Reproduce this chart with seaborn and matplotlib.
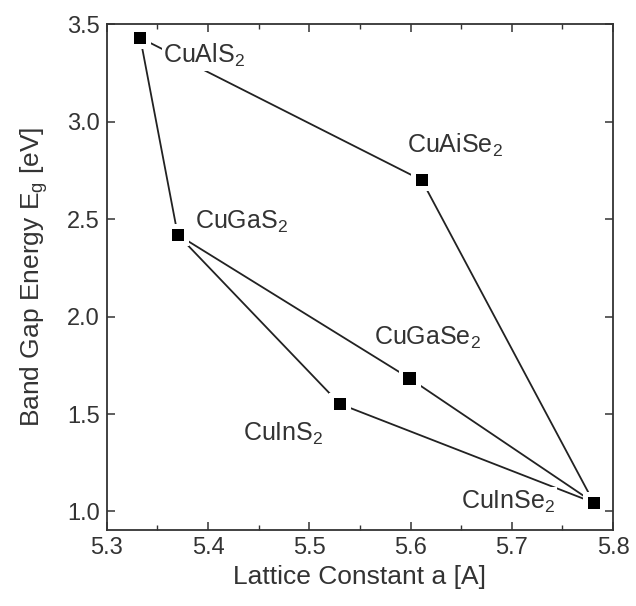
import matplotlib
matplotlib.use("Agg")
import matplotlib.pyplot as plt
import seaborn as sns
import pandas as pd
from matplotlib.ticker import MultipleLocator

compounds = ["CuAlS2", "CuAlSe2", "CuGaS2", "CuGaSe2", "CuInS2", "CuInSe2"]
labels = ["CuAlS$_2$", "CuAiSe$_2$", "CuGaS$_2$", "CuGaSe$_2$", "CuInS$_2$", "CuInSe$_2$"]
lattice = [5.333, 5.611, 5.370, 5.599, 5.530, 5.781]
bandgap = [3.43, 2.70, 2.42, 1.683, 1.552, 1.045]
label_x = [5.396, 5.644, 5.433, 5.617, 5.474, 5.696]
label_y = [3.34, 2.88, 2.485, 1.89, 1.40, 1.05]
connections = [("CuAlS2", "CuAlSe2"), ("CuAlSe2", "CuInSe2"), ("CuAlS2", "CuGaS2"),
               ("CuGaS2", "CuGaSe2"), ("CuGaSe2", "CuInSe2"),
               ("CuGaS2", "CuInS2"), ("CuInS2", "CuInSe2")]

sns.set_theme(style="ticks")
plt.rcParams["font.family"] = ["Liberation Sans", "DejaVu Sans"]
plt.rcParams["mathtext.fontset"] = "custom"
plt.rcParams["mathtext.rm"] = "Liberation Sans"
plt.rcParams["mathtext.it"] = "Liberation Sans"

dark = "#333333"
fig = plt.figure(figsize=(6.36, 6.06), dpi=100)
ax = fig.add_axes([0.168, 0.1254, 0.796, 0.8346])

df = pd.DataFrame({"name": compounds, "a": lattice, "Eg": bandgap})
pos = {n: (x, y) for n, x, y in zip(compounds, lattice, bandgap)}

for i, (p, q) in enumerate(connections):
    seg = pd.DataFrame({"a": [pos[p][0], pos[q][0]], "Eg": [pos[p][1], pos[q][1]]})
    sns.lineplot(data=seg, x="a", y="Eg", ax=ax, color="#222222", linewidth=1.3,
                 sort=False, estimator=None, zorder=1)

sns.scatterplot(data=df, x="a", y="Eg", ax=ax, marker="s", s=250, color="white",
                edgecolor="none", linewidth=0, zorder=2)
sns.scatterplot(data=df, x="a", y="Eg", ax=ax, marker="s", s=80, color="black",
                edgecolor="none", linewidth=0, zorder=3)

for lab, lx, ly in zip(labels, label_x, label_y):
    ax.text(lx, ly, lab, ha="center", va="center", fontsize=18, color=dark, zorder=4,
            bbox=dict(facecolor="white", edgecolor="none", pad=1.0))

ax.set_xlim(5.3, 5.8)
ax.set_ylim(0.905, 3.5)
ax.xaxis.set_minor_locator(MultipleLocator(0.05))
ax.set_xticks([5.3, 5.4, 5.5, 5.6, 5.7, 5.8])
ax.set_xticklabels(["5.3", "5.4", "5.5", "5.6", "5.7", "5.8"])
ax.set_yticks([1.0, 1.5, 2.0, 2.5, 3.0, 3.5])
ax.set_yticklabels(["1.0", "1.5", "2.0", "2.5", "3.0", "3.5"])

ax.tick_params(axis="both", which="major", direction="in", length=6, width=1.1,
               top=True, right=True, labelsize=17, colors=dark, pad=5)
ax.tick_params(axis="x", which="minor", direction="in", length=3.5, width=1.0,
               top=True, bottom=True, colors=dark)
for s in ax.spines.values():
    s.set_visible(True)
    s.set_linewidth(1.3)
    s.set_color(dark)

ax.set_xlabel("Lattice Constant a [A]", fontsize=19, color=dark, labelpad=4)
ax.set_ylabel("Band Gap Energy E$_\\mathregular{g}$ [eV]", fontsize=19, color=dark, labelpad=12)

fig.savefig("out.png", dpi=100, facecolor="white")
